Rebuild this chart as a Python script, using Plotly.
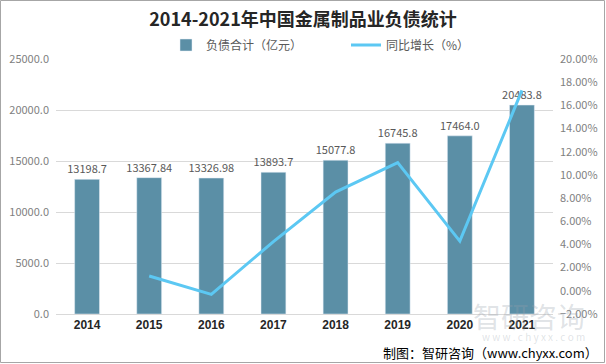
import plotly.graph_objects as go

years = ["2014", "2015", "2016", "2017", "2018", "2019", "2020", "2021"]
debt = [13198.7, 13367.84, 13326.98, 13893.7, 15077.8, 16745.8, 17464.0, 20483.8]
growth_years = ["2015", "2016", "2017", "2018", "2019", "2020", "2021"]
growth = [1.28, -0.31, 4.25, 8.52, 11.06, 4.29, 17.29]

W, H = 606, 364
L, R, T, B = 56, 53, 59, 50
pw, ph = W - L - R, H - T - B

FONT = "Noto Sans CJK SC"
BAR_C = "#5B8FA6"
LINE_C = "#5CC8F3"

fig = go.Figure()
fig.add_trace(go.Bar(
    x=years, y=debt, name="负债合计（亿元）", marker_color=BAR_C, width=0.4,
    text=[str(v) for v in debt], textposition="outside", constraintext="none",
    textfont=dict(color="#595959", size=11, family=FONT), cliponaxis=False,
))
fig.add_trace(go.Scatter(
    x=growth_years, y=growth, name="同比增长（%）", mode="lines",
    line=dict(color=LINE_C, width=3), yaxis="y2",
))

fig.update_layout(
    width=W, height=H,
    margin=dict(l=L, r=R, t=T, b=B),
    paper_bgcolor="white", plot_bgcolor="white",
    font=dict(family=FONT, color="#7f7f7f"),
    title=dict(text="<b>2014-2021年中国金属制品业负债统计</b>", x=0.5, xanchor="center",
               y=1 - 20 / H, yanchor="middle",
               font=dict(size=18, color="#262626", family=FONT)),
    legend=dict(orientation="h", x=(166 - L) / pw, xanchor="left", y=1 + 14 / ph, yanchor="middle",
                font=dict(size=12, color="#595959", family=FONT), entrywidth=135,
                itemwidth=30, bgcolor="rgba(0,0,0,0)"),
    xaxis=dict(type="category", showgrid=False, showline=True, linecolor="#d9d9d9",
               ticks="", tickfont=dict(size=12, color="#262626", family="Liberation Sans"),
               tickprefix="<b>", ticksuffix="</b>", automargin=False),
    yaxis=dict(range=[0, 25000], dtick=5000, tickformat=".1f", showgrid=True,
               gridcolor="#d9d9d9", zeroline=False, tickfont=dict(size=11, color="#7f7f7f"),
               ticks="", ticklen=0, ticklabelstandoff=6, automargin=False),
    yaxis2=dict(range=[-2, 20], dtick=2, tickformat=".2f", ticksuffix="%", overlaying="y",
                side="right", showgrid=False, zeroline=False, ticklabelstandoff=6,
                automargin=False, tickfont=dict(size=11, color="#7f7f7f")),
)

# outer border
fig.add_shape(type="rect", xref="paper", yref="paper",
              x0=(-L + 0.5) / pw, x1=1 + (R - 1.5) / pw,
              y0=(-B + 1.5) / ph, y1=1 + (T - 0.5) / ph,
              line=dict(color="#a6a6a6", width=1), fillcolor="rgba(0,0,0,0)", layer="above")

# watermark
fig.add_annotation(xref="paper", yref="paper", x=1 + 34 / pw, y=(314 - 316) / ph,
                   text="智研咨询", showarrow=False, xanchor="right", yanchor="middle",
                   font=dict(size=28, color="rgba(150,160,170,0.3)", family=FONT))
fig.add_annotation(xref="paper", yref="paper", x=1 + 34 / pw, y=(314 - 336) / ph,
                   text="w w w . c h y x x . c o m", showarrow=False, xanchor="right", yanchor="middle",
                   font=dict(size=10, color="rgba(150,160,170,0.3)", family=FONT))

# source
fig.add_annotation(xref="paper", yref="paper", x=1 + (R - 6) / pw, y=(314 - 352) / ph,
                   text="制图：智研咨询（www.chyxx.com）", showarrow=False, xanchor="right",
                   yanchor="middle", font=dict(size=13, color="#000000", family=FONT))

fig.write_html("out.html", config={"displayModeBar": False},
               post_script="document.body.style.margin='0';")
